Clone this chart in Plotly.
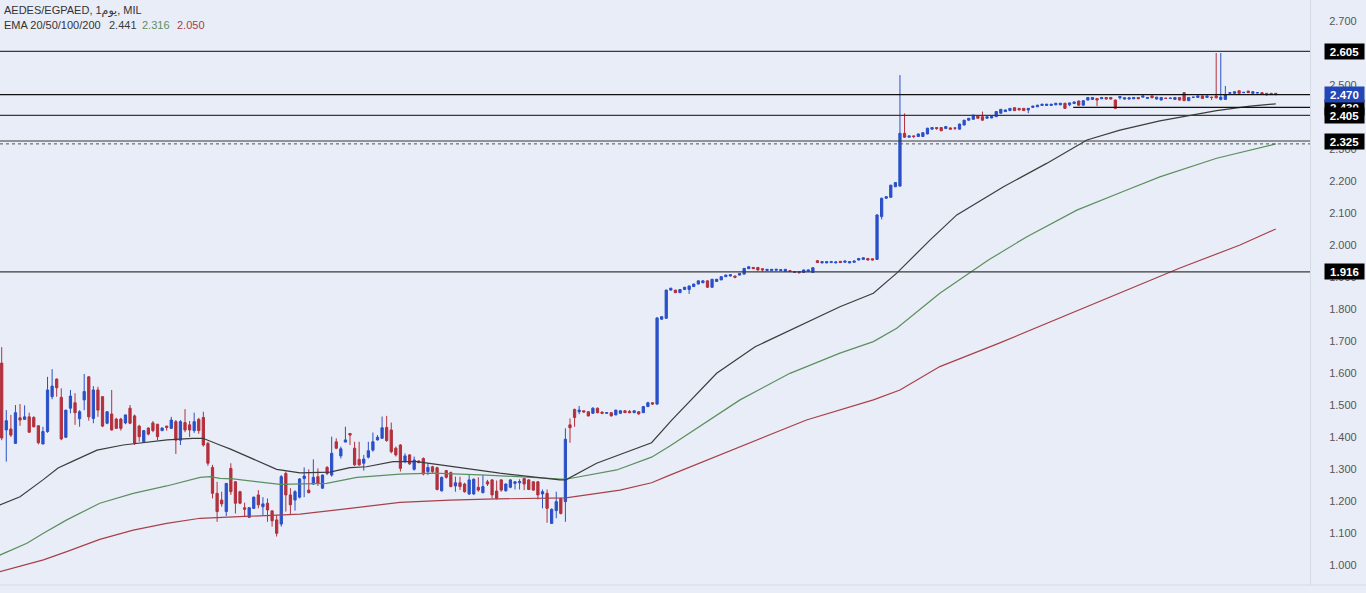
import plotly.graph_objects as go

# ---------------- data ----------------
OPEN = [
    1.631, 1.422, 1.425, 1.380, 1.460, 1.455, 1.463, 1.461, 1.435, 1.378,
    1.417, 1.526, 1.581, 1.524, 1.399, 1.490, 1.507, 1.457, 1.516, 1.588,
    1.458, 1.547, 1.526, 1.443, 1.472, 1.456, 1.456, 1.444, 1.490, 1.466,
    1.434, 1.385, 1.428, 1.444, 1.440, 1.420, 1.434, 1.427, 1.448, 1.390,
    1.445, 1.438, 1.420, 1.455, 1.461, 1.380, 1.305, 1.224, 1.203, 1.167,
    1.302, 1.260, 1.229, 1.179, 1.149, 1.177, 1.219, 1.182, 1.193, 1.169,
    1.141, 1.128, 1.286, 1.219, 1.203, 1.212, 1.270, 1.234, 1.253, 1.276,
    1.240, 1.305, 1.281, 1.385, 1.341, 1.384, 1.411, 1.365, 1.330, 1.318,
    1.337, 1.359, 1.391, 1.396, 1.430, 1.422, 1.365, 1.375, 1.323, 1.344,
    1.299, 1.325, 1.333, 1.292, 1.307, 1.304, 1.232, 1.295, 1.289, 1.247,
    1.257, 1.253, 1.222, 1.222, 1.243, 1.226, 1.260, 1.266, 1.231, 1.266,
    1.232, 1.243, 1.255, 1.257, 1.270, 1.266, 1.260, 1.260, 1.222, 1.224,
    1.130, 1.170, 1.208, 1.198, 1.438, 1.486, 1.479, 1.482, 1.479, 1.474,
    1.490, 1.478, 1.474, 1.476, 1.469, 1.474, 1.482, 1.480, 1.476, 1.479,
    1.476, 1.495, 1.507, 1.503, 1.768, 1.771, 1.859, 1.859, 1.851, 1.861,
    1.861, 1.870, 1.878, 1.882, 1.888, 1.868, 1.886, 1.891, 1.901, 1.903,
    1.903, 1.906, 1.909, 1.926, 1.930, 1.930, 1.926, 1.920, 1.920, 1.921,
    1.920, 1.918, 1.920, 1.914, 1.917, 1.914, 1.918, 1.914, 1.951, 1.944,
    1.944, 1.945, 1.944, 1.949, 1.946, 1.944, 1.946, 1.953, 1.955, 1.958,
    1.957, 1.955, 2.089, 2.146, 2.149, 2.182, 2.184, 2.349, 2.337, 2.341,
    2.339, 2.339, 2.347, 2.362, 2.367, 2.367, 2.364, 2.366, 2.366, 2.362,
    2.375, 2.390, 2.393, 2.403, 2.401, 2.396, 2.397, 2.401, 2.412, 2.417,
    2.420, 2.429, 2.427, 2.427, 2.422, 2.430, 2.432, 2.436, 2.436, 2.436,
    2.438, 2.438, 2.443, 2.438, 2.442, 2.450, 2.437, 2.453, 2.455, 2.458,
    2.457, 2.461, 2.461, 2.453, 2.460, 2.456, 2.456, 2.457, 2.461, 2.462,
    2.458, 2.466, 2.456, 2.453, 2.459, 2.458, 2.455, 2.461, 2.476, 2.451,
    2.461, 2.461, 2.466, 2.461, 2.462, 2.466, 2.455, 2.455, 2.474, 2.474,
    2.482, 2.476, 2.481, 2.474, 2.475, 2.476, 2.474, 2.474, 2.474,
]
HIGH = [
    1.681, 1.484, 1.469, 1.500, 1.503, 1.499, 1.476, 1.465, 1.437, 1.432,
    1.588, 1.612, 1.583, 1.552, 1.484, 1.547, 1.537, 1.484, 1.597, 1.590,
    1.559, 1.557, 1.528, 1.479, 1.547, 1.460, 1.460, 1.470, 1.500, 1.470,
    1.438, 1.420, 1.430, 1.450, 1.440, 1.430, 1.435, 1.463, 1.453, 1.453,
    1.487, 1.450, 1.476, 1.460, 1.479, 1.385, 1.313, 1.260, 1.229, 1.255,
    1.318, 1.262, 1.232, 1.195, 1.181, 1.214, 1.234, 1.212, 1.208, 1.172,
    1.156, 1.281, 1.292, 1.240, 1.234, 1.271, 1.305, 1.299, 1.330, 1.302,
    1.283, 1.309, 1.401, 1.396, 1.370, 1.432, 1.412, 1.385, 1.385, 1.344,
    1.385, 1.414, 1.406, 1.464, 1.466, 1.445, 1.370, 1.378, 1.349, 1.346,
    1.339, 1.327, 1.336, 1.318, 1.310, 1.307, 1.276, 1.297, 1.292, 1.276,
    1.276, 1.257, 1.281, 1.271, 1.274, 1.281, 1.266, 1.268, 1.264, 1.268,
    1.255, 1.268, 1.262, 1.268, 1.271, 1.268, 1.262, 1.262, 1.236, 1.236,
    1.177, 1.229, 1.210, 1.427, 1.458, 1.489, 1.497, 1.482, 1.480, 1.493,
    1.492, 1.479, 1.477, 1.478, 1.485, 1.483, 1.483, 1.484, 1.483, 1.480,
    1.496, 1.510, 1.509, 1.775, 1.778, 1.861, 1.866, 1.860, 1.862, 1.869,
    1.873, 1.879, 1.889, 1.889, 1.889, 1.894, 1.894, 1.902, 1.907, 1.908,
    1.904, 1.912, 1.928, 1.933, 1.931, 1.931, 1.927, 1.925, 1.925, 1.925,
    1.924, 1.925, 1.921, 1.918, 1.918, 1.923, 1.923, 1.930, 1.952, 1.949,
    1.949, 1.949, 1.948, 1.950, 1.951, 1.949, 1.951, 1.959, 1.961, 1.959,
    1.958, 2.096, 2.148, 2.153, 2.188, 2.196, 2.531, 2.411, 2.342, 2.342,
    2.348, 2.352, 2.366, 2.368, 2.368, 2.368, 2.371, 2.367, 2.367, 2.379,
    2.391, 2.397, 2.407, 2.404, 2.417, 2.402, 2.403, 2.418, 2.425, 2.423,
    2.428, 2.430, 2.428, 2.428, 2.428, 2.435, 2.438, 2.441, 2.441, 2.441,
    2.444, 2.444, 2.444, 2.445, 2.448, 2.451, 2.452, 2.462, 2.462, 2.459,
    2.462, 2.462, 2.462, 2.454, 2.466, 2.461, 2.461, 2.462, 2.462, 2.467,
    2.462, 2.467, 2.463, 2.462, 2.460, 2.460, 2.462, 2.462, 2.478, 2.462,
    2.463, 2.467, 2.467, 2.467, 2.463, 2.600, 2.600, 2.497, 2.477, 2.480,
    2.483, 2.478, 2.482, 2.480, 2.477, 2.477, 2.475, 2.475, 2.475,
]
LOW = [
    1.390, 1.323, 1.400, 1.380, 1.435, 1.455, 1.413, 1.430, 1.377, 1.378,
    1.413, 1.518, 1.526, 1.390, 1.399, 1.474, 1.438, 1.432, 1.484, 1.451,
    1.443, 1.463, 1.431, 1.440, 1.420, 1.425, 1.420, 1.440, 1.440, 1.375,
    1.385, 1.385, 1.405, 1.415, 1.390, 1.418, 1.420, 1.425, 1.347, 1.375,
    1.415, 1.400, 1.413, 1.410, 1.370, 1.310, 1.208, 1.135, 1.182, 1.153,
    1.219, 1.161, 1.190, 1.151, 1.147, 1.175, 1.177, 1.156, 1.135, 1.120,
    1.089, 1.120, 1.167, 1.156, 1.170, 1.208, 1.212, 1.224, 1.250, 1.247,
    1.238, 1.281, 1.276, 1.362, 1.333, 1.384, 1.375, 1.310, 1.310, 1.295,
    1.333, 1.354, 1.389, 1.394, 1.385, 1.349, 1.339, 1.292, 1.318, 1.313,
    1.295, 1.318, 1.280, 1.281, 1.288, 1.233, 1.229, 1.270, 1.243, 1.229,
    1.234, 1.226, 1.219, 1.219, 1.229, 1.224, 1.247, 1.208, 1.205, 1.229,
    1.229, 1.240, 1.236, 1.236, 1.234, 1.234, 1.232, 1.205, 1.177, 1.132,
    1.128, 1.146, 1.158, 1.135, 1.382, 1.432, 1.471, 1.476, 1.464, 1.472,
    1.474, 1.471, 1.473, 1.464, 1.468, 1.473, 1.475, 1.474, 1.475, 1.470,
    1.475, 1.494, 1.500, 1.500, 1.766, 1.769, 1.858, 1.850, 1.850, 1.859,
    1.847, 1.869, 1.877, 1.881, 1.866, 1.866, 1.885, 1.890, 1.900, 1.902,
    1.896, 1.905, 1.908, 1.925, 1.925, 1.920, 1.917, 1.919, 1.919, 1.920,
    1.919, 1.917, 1.916, 1.913, 1.912, 1.913, 1.917, 1.913, 1.944, 1.943,
    1.943, 1.944, 1.943, 1.944, 1.945, 1.943, 1.945, 1.952, 1.954, 1.952,
    1.952, 1.954, 2.080, 2.145, 2.148, 2.181, 2.183, 2.335, 2.336, 2.334,
    2.338, 2.338, 2.346, 2.361, 2.360, 2.356, 2.363, 2.361, 2.359, 2.361,
    2.374, 2.389, 2.392, 2.395, 2.389, 2.395, 2.396, 2.400, 2.411, 2.416,
    2.419, 2.419, 2.421, 2.419, 2.412, 2.429, 2.431, 2.435, 2.435, 2.435,
    2.437, 2.437, 2.426, 2.434, 2.441, 2.436, 2.436, 2.452, 2.454, 2.434,
    2.456, 2.455, 2.455, 2.426, 2.455, 2.455, 2.455, 2.456, 2.456, 2.461,
    2.457, 2.459, 2.455, 2.452, 2.457, 2.457, 2.454, 2.452, 2.450, 2.450,
    2.460, 2.460, 2.457, 2.460, 2.453, 2.458, 2.452, 2.455, 2.473, 2.473,
    2.473, 2.475, 2.475, 2.473, 2.474, 2.471, 2.468, 2.469, 2.468,
]
CLOSE = [
    1.397, 1.451, 1.406, 1.476, 1.453, 1.463, 1.415, 1.432, 1.382, 1.417,
    1.547, 1.559, 1.554, 1.394, 1.484, 1.528, 1.476, 1.479, 1.542, 1.463,
    1.547, 1.484, 1.434, 1.479, 1.422, 1.427, 1.427, 1.469, 1.443, 1.381,
    1.401, 1.420, 1.409, 1.420, 1.401, 1.428, 1.430, 1.453, 1.390, 1.448,
    1.422, 1.422, 1.448, 1.420, 1.375, 1.318, 1.224, 1.167, 1.191, 1.255,
    1.229, 1.193, 1.193, 1.174, 1.179, 1.212, 1.188, 1.191, 1.172, 1.138,
    1.099, 1.276, 1.219, 1.188, 1.229, 1.269, 1.278, 1.226, 1.274, 1.255,
    1.281, 1.286, 1.349, 1.365, 1.363, 1.391, 1.406, 1.313, 1.313, 1.331,
    1.357, 1.385, 1.399, 1.429, 1.389, 1.354, 1.344, 1.302, 1.341, 1.316,
    1.328, 1.320, 1.284, 1.305, 1.292, 1.236, 1.274, 1.274, 1.245, 1.257,
    1.245, 1.229, 1.266, 1.268, 1.234, 1.245, 1.253, 1.219, 1.208, 1.234,
    1.253, 1.266, 1.260, 1.261, 1.253, 1.236, 1.234, 1.219, 1.229, 1.177,
    1.174, 1.198, 1.161, 1.393, 1.429, 1.461, 1.484, 1.478, 1.466, 1.490,
    1.476, 1.474, 1.476, 1.466, 1.484, 1.482, 1.476, 1.476, 1.482, 1.472,
    1.495, 1.507, 1.503, 1.772, 1.776, 1.859, 1.865, 1.851, 1.861, 1.868,
    1.872, 1.878, 1.888, 1.888, 1.868, 1.893, 1.893, 1.901, 1.906, 1.907,
    1.899, 1.911, 1.927, 1.932, 1.926, 1.922, 1.922, 1.924, 1.924, 1.924,
    1.923, 1.924, 1.917, 1.917, 1.913, 1.922, 1.922, 1.929, 1.945, 1.948,
    1.948, 1.948, 1.947, 1.945, 1.950, 1.948, 1.950, 1.958, 1.960, 1.953,
    1.953, 2.094, 2.146, 2.151, 2.187, 2.195, 2.349, 2.337, 2.341, 2.339,
    2.347, 2.351, 2.365, 2.367, 2.364, 2.357, 2.370, 2.362, 2.365, 2.378,
    2.390, 2.396, 2.406, 2.396, 2.390, 2.401, 2.402, 2.417, 2.424, 2.422,
    2.427, 2.420, 2.422, 2.420, 2.427, 2.434, 2.437, 2.440, 2.440, 2.440,
    2.443, 2.443, 2.427, 2.444, 2.447, 2.437, 2.451, 2.461, 2.461, 2.453,
    2.461, 2.456, 2.456, 2.427, 2.464, 2.460, 2.460, 2.461, 2.457, 2.466,
    2.461, 2.460, 2.462, 2.461, 2.458, 2.459, 2.461, 2.453, 2.451, 2.461,
    2.462, 2.466, 2.458, 2.466, 2.461, 2.460, 2.462, 2.469, 2.476, 2.479,
    2.474, 2.477, 2.476, 2.479, 2.476, 2.472, 2.469, 2.470, 2.470,
]

# EMA curves (bar position, price)
EMA20_BAR = [-0.4, 4.0, 9.0, 12.3, 15.3, 20.8, 26.5, 36.1, 41.7, 43.9, 47.6, 49.8,
             60.0, 65.1, 71.6, 76.0, 79.6, 85.4, 90.6, 97.8, 108.7, 121.8, 123.1,
             129.8, 141.8, 146.2, 156.0, 164.4, 172.0, 182.9, 190.2, 195.3, 202.6,
             208.4, 218.6, 228.0, 236.8, 244.0, 252.7, 257.8, 265.1, 272.4, 278.0]
EMA20_VAL = [1.188, 1.213, 1.266, 1.303, 1.323, 1.359, 1.375, 1.391, 1.396, 1.396, 1.375, 1.363,
             1.299, 1.288, 1.290, 1.304, 1.307, 1.323, 1.323, 1.309, 1.287, 1.266, 1.266,
             1.318, 1.382, 1.453, 1.599, 1.682, 1.734, 1.807, 1.849, 1.912, 2.016,
             2.094, 2.182, 2.255, 2.328, 2.359, 2.388, 2.401, 2.420, 2.434, 2.441]

EMA50_BAR = [-0.4, 5.5, 9.1, 14.2, 21.4, 28.7, 36.0, 43.3, 45.5, 47.6, 50.5, 60.7,
             70.9, 77.5, 86.9, 94.2, 105.8, 123.1, 134.2, 141.8, 145.8, 154.5, 161.1,
             172.0, 182.9, 190.2, 195.3, 204.7, 215.3, 223.7, 234.6, 245.5, 252.7,
             265.1, 278.0]
EMA50_VAL = [1.031, 1.068, 1.099, 1.141, 1.193, 1.224, 1.247, 1.274, 1.276, 1.271, 1.269, 1.252,
             1.255, 1.274, 1.284, 1.287, 1.281, 1.268, 1.297, 1.337, 1.372, 1.453, 1.516,
             1.599, 1.662, 1.698, 1.740, 1.849, 1.953, 2.026, 2.109, 2.172, 2.213,
             2.271, 2.316]

EMA100_BAR = [-0.4, 9.1, 14.2, 21.4, 28.7, 36.0, 43.3, 54.2, 65.1, 76.0, 86.9, 97.8,
              105.8, 123.1, 134.9, 141.8, 145.8, 175.6, 190.2, 196.0, 204.7, 217.8,
              230.9, 244.0, 257.1, 270.2, 278.0]
EMA100_VAL = [0.979, 1.016, 1.042, 1.080, 1.109, 1.130, 1.146, 1.153, 1.159, 1.177, 1.196, 1.203,
              1.206, 1.210, 1.234, 1.257, 1.281, 1.453, 1.516, 1.547, 1.620, 1.694,
              1.772, 1.850, 1.928, 2.000, 2.050]

# Horizontal price levels
LEVELS = [2.605, 2.470, 2.405, 2.325, 1.916]
SHORT_LEVEL = 2.430
SHORT_LEVEL_START_BAR = 233.8
EMA50_PRICE_LINE = 2.316

TICK_VALUES = [1.0, 1.1, 1.2, 1.3, 1.4, 1.5, 1.6, 1.7, 1.8, 1.9,
               2.0, 2.1, 2.2, 2.3, 2.4, 2.5, 2.6, 2.7]
TICK_LABELS = ["1.000", "1.100", "1.200", "1.300", "1.400", "1.500", "1.600", "1.700", "1.800", "1.900",
               "2.000", "2.100", "2.200", "2.300", "2.400", "2.500", "2.600", "2.700"]

TITLE = "AEDES/EGPAED, 1يوم, MIL"
EMA_LABEL = "EMA 20/50/100/200"
EMA_VALUES = ["2.441", "2.316", "2.050"]

# ---------------- style ----------------
BG = "#e9edf7"
BLUE = "#2a50c8"
RED = "#b3303c"
C_EMA20 = "#3c3c3c"
C_EMA50 = "#5b8f5f"
C_EMA100 = "#a8404a"
FONT = "Liberation Sans, Arial, DejaVu Sans, sans-serif"

X_MIN, X_MAX = -0.37, 285.47
Y_MIN, Y_MAX = 0.9375, 2.765625

fig = go.Figure()
fig.add_trace(go.Candlestick(
    x=list(range(len(CLOSE))), open=OPEN, high=HIGH, low=LOW, close=CLOSE,
    increasing=dict(line=dict(color=BLUE, width=1), fillcolor=BLUE),
    decreasing=dict(line=dict(color=RED, width=1), fillcolor=RED),
    whiskerwidth=0, showlegend=False, hoverinfo="skip",
))
for bx, vy, col in [(EMA100_BAR, EMA100_VAL, C_EMA100),
                    (EMA50_BAR, EMA50_VAL, C_EMA50),
                    (EMA20_BAR, EMA20_VAL, C_EMA20)]:
    fig.add_trace(go.Scatter(x=bx, y=vy, mode="lines", line=dict(color=col, width=1.2),
                             showlegend=False, hoverinfo="skip"))

shapes = []
for lv in LEVELS:
    col = "#111111" if lv == 2.470 else "#3a3a3a"
    shapes.append(dict(type="line", xref="paper", yref="y", x0=0, x1=1, y0=lv, y1=lv,
                       line=dict(color=col, width=1.2), layer="above"))
shapes.append(dict(type="line", xref="x", yref="y", x0=SHORT_LEVEL_START_BAR, x1=X_MAX,
                   y0=SHORT_LEVEL, y1=SHORT_LEVEL, line=dict(color="#111111", width=1.2), layer="above"))
shapes.append(dict(type="line", xref="paper", yref="y", x0=0, x1=1, y0=EMA50_PRICE_LINE, y1=EMA50_PRICE_LINE,
                   line=dict(color="#4a5a4a", width=1, dash="dot"), layer="above"))
# bottom border of the pane
shapes.append(dict(type="line", xref="paper", yref="paper", x0=0, x1=1 + 56 / 1310, y0=0, y1=0,
                   line=dict(color="#d5dae4", width=1)))

annotations = []
LABEL_X = 1 + 34 / 1310
label_order = [(SHORT_LEVEL, "#000000"), (2.405, "#000000"), (2.325, "#000000"),
               (1.916, "#000000"), (2.605, "#000000"), (2.470, "#2447b8")]
for val, bg in label_order:
    annotations.append(dict(x=LABEL_X, y=val, xref="paper", yref="y", text="<b>%.3f</b>" % val,
                            showarrow=False, xanchor="center", yanchor="middle",
                            font=dict(family=FONT, size=11.5, color="white"),
                            bgcolor=bg, width=39, height=15, borderpad=0))

HY1 = 1 - 10 / 585
HY2 = 1 - 25 / 585
annotations.append(dict(x=2 / 1310, y=HY1, xref="paper", yref="paper", text=TITLE, showarrow=False,
                        xanchor="left", yanchor="middle", font=dict(family=FONT, size=11, color="#333333")))
annotations.append(dict(x=2 / 1310, y=HY2, xref="paper", yref="paper", text=EMA_LABEL, showarrow=False,
                        xanchor="left", yanchor="middle", font=dict(family=FONT, size=11, color="#333333")))
for xp, txt, col in [(107, EMA_VALUES[0], C_EMA20), (140, EMA_VALUES[1], C_EMA50), (175, EMA_VALUES[2], C_EMA100)]:
    annotations.append(dict(x=xp / 1310, y=HY2, xref="paper", yref="paper", text=txt, showarrow=False,
                            xanchor="left", yanchor="middle", font=dict(family=FONT, size=11, color=col)))

fig.update_layout(
    width=1366, height=593,
    margin=dict(l=0, r=56, t=0, b=8),
    paper_bgcolor=BG, plot_bgcolor=BG,
    font=dict(family=FONT),
    shapes=shapes, annotations=annotations,
    xaxis=dict(range=[X_MIN, X_MAX], showticklabels=False, showgrid=False, zeroline=False,
               rangeslider=dict(visible=False), showline=False, fixedrange=True),
    yaxis=dict(range=[Y_MIN, Y_MAX], side="right", tickvals=TICK_VALUES, ticktext=TICK_LABELS,
               tickfont=dict(family=FONT, size=11, color="#555555"), showgrid=False, zeroline=False,
               ticks="", ticklabelstandoff=16, showline=True, linecolor="#d5dae4", linewidth=1,
               fixedrange=True),
    hovermode=False,
)

fig.write_html("out.html", config={"displayModeBar": False},
               post_script="document.body.style.margin='0px';document.body.style.background='%s';" % BG)
